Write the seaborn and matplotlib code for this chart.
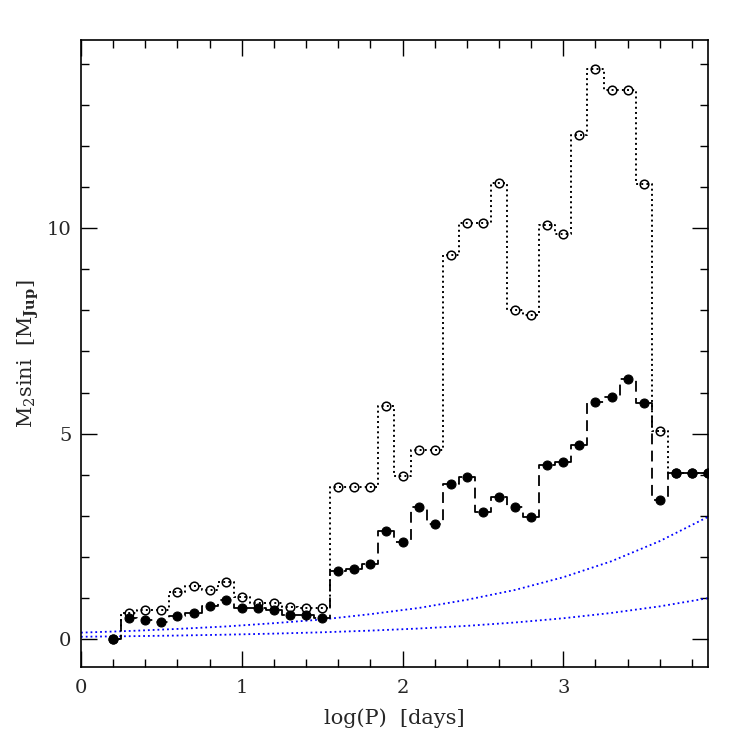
import matplotlib
matplotlib.use("Agg")
import matplotlib.pyplot as plt
from matplotlib.ticker import MultipleLocator
import seaborn as sns
import pandas as pd

# ---- data ----
log_p = [0.2, 0.3, 0.4, 0.5, 0.6, 0.7, 0.8, 0.9, 1.0, 1.1, 1.2, 1.3, 1.4, 1.5,
         1.6, 1.7, 1.8, 1.9, 2.0, 2.1, 2.2, 2.3, 2.4, 2.5, 2.6, 2.7, 2.8, 2.9,
         3.0, 3.1, 3.2, 3.3, 3.4, 3.5, 3.6, 3.7, 3.8, 3.9]
mass_filled = [0.00, 0.50, 0.46, 0.42, 0.55, 0.63, 0.79, 0.95, 0.74, 0.74, 0.70, 0.58, 0.58, 0.50,
               1.66, 1.71, 1.82, 2.62, 2.35, 3.21, 2.79, 3.76, 3.93, 3.10, 3.45, 3.22, 2.97, 4.24,
               4.30, 4.72, 5.78, 5.89, 6.33, 5.75, 3.37, 4.04, 4.04, 4.04]
mass_open = [0.00, 0.62, 0.71, 0.71, 1.15, 1.28, 1.20, 1.38, 1.03, 0.87, 0.87, 0.78, 0.76, 0.74,
             3.70, 3.70, 3.70, 5.67, 3.97, 4.59, 4.59, 9.34, 10.13, 10.13, 11.11, 8.02, 7.88, 10.09,
             9.87, 12.28, 13.88, 13.37, 13.37, 11.07, 5.07, 4.04, 4.04, 4.04]

curve_x = [0.0, 0.3, 0.6, 0.9, 1.2, 1.5, 1.8, 2.1, 2.4, 2.7, 3.0, 3.3, 3.6, 3.9]
curve_upper = [0.15, 0.19, 0.24, 0.30, 0.38, 0.47, 0.60, 0.75, 0.95, 1.19, 1.50, 1.89, 2.38, 2.97]
curve_lower = [0.05, 0.063, 0.079, 0.10, 0.126, 0.158, 0.199, 0.25, 0.315, 0.397, 0.50, 0.63, 0.79, 0.99]

x_ticks = [0, 1, 2, 3]
y_ticks = [0, 5, 10]

sns.set_style("ticks")
plt.rcParams['font.family'] = ['DejaVu Serif']
plt.rcParams['mathtext.fontset'] = 'dejavuserif'

df = pd.DataFrame({"logP": log_p, "filled": mass_filled, "open": mass_open})
cf = pd.DataFrame({"x": curve_x, "up": curve_upper, "lo": curve_lower})

fig = plt.figure(figsize=(7.47, 7.47), dpi=100)
ax = fig.add_axes([0.1084, 0.1075, 0.8394, 0.8385])

# blue detection-limit curves
sns.lineplot(data=cf, x="x", y="up", ax=ax, color="#0000ff", linestyle=":", linewidth=1.3)
sns.lineplot(data=cf, x="x", y="lo", ax=ax, color="#0000ff", linestyle=":", linewidth=1.3)

# open circles with dotted steps
sns.lineplot(data=df, x="logP", y="open", ax=ax, color="black", linestyle=":",
             linewidth=1.4, drawstyle="steps-mid")
sns.lineplot(data=df, x="logP", y="open", ax=ax, color="black", linestyle="none",
             marker="o", markersize=6.2, markerfacecolor="none",
             markeredgecolor="black", markeredgewidth=1.1)

# filled circles with dashed steps
sns.lineplot(data=df, x="logP", y="filled", ax=ax, color="black", linestyle=(0, (6, 3.5)),
             linewidth=1.3, drawstyle="steps-mid")
sns.lineplot(data=df, x="logP", y="filled", ax=ax, color="black", linestyle="none",
             marker="o", markersize=6.5, markerfacecolor="black",
             markeredgecolor="black")

ax.set_xlim(0, 3.9)
ax.set_ylim(-0.68, 14.58)
ax.set_xticks(x_ticks)
ax.set_yticks(y_ticks)
ax.xaxis.set_minor_locator(MultipleLocator(0.2))
ax.yaxis.set_minor_locator(MultipleLocator(1))
ax.tick_params(which="both", direction="in", top=True, right=True, width=1.0, color="black")
ax.tick_params(which="major", length=11.5, labelsize=14, pad=9)
ax.tick_params(axis="y", which="major", pad=7)
ax.tick_params(which="minor", length=5.5)
for s in ax.spines.values():
    s.set_linewidth(1.2)
    s.set_color("black")

ax.set_xlabel("log(P)  [days]", fontsize=15, labelpad=8)
ax.set_ylabel(r"M$_2$sini  [M$_{\mathbf{Jup}}$]", fontsize=15, labelpad=4)

fig.savefig("out.png", dpi=100)
